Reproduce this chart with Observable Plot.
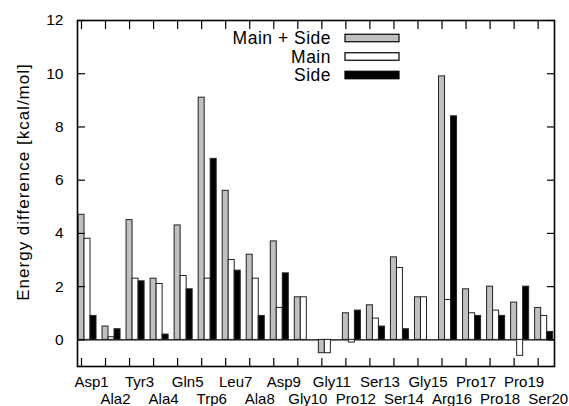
<!DOCTYPE html>
<html><head><meta charset="utf-8">
<script src="https://cdn.jsdelivr.net/npm/d3@7"></script>
<script src="https://cdn.jsdelivr.net/npm/@observablehq/plot@0.6"></script>
<style>body{margin:0;background:#fff;} #chart{width:569px;height:406px;}</style>
</head><body><div id="chart"></div>
<script>
const residues = ["Asp1","Ala2","Tyr3","Ala4","Gln5","Trp6","Leu7","Ala8","Asp9","Gly10",
                  "Gly11","Pro12","Ser13","Ser14","Gly15","Arg16","Pro17","Pro18","Pro19","Ser20"];
const mainSide = [4.7,0.5,4.5,2.3,4.3,9.1,5.6,3.2,3.7,1.6,-0.5,1.0,1.3,3.1,1.6,9.9,1.9,2.0,1.4,1.2];
const mainOnly = [3.8,0.1,2.3,2.1,2.4,2.3,3.0,2.3,1.2,1.6,-0.5,-0.1,0.8,2.7,1.6,1.5,1.0,1.1,-0.6,0.9];
const sideOnly = [0.9,0.4,2.2,0.2,1.9,6.8,2.6,0.9,2.5,0.0,0.0,1.1,0.5,0.4,0.0,8.4,0.9,0.9,2.0,0.3];
const seriesNames = ["Main + Side","Main","Side"];
const seriesFill = ["#c0c0c0","#ffffff","#000000"];
const seriesOffset = [0, 0.25, 0.5];
const yTicks = [0,2,4,6,8,10,12];
const yLabel = "Energy difference [kcal/mol]";

const barW = 0.25;
const rows = [];
[mainSide, mainOnly, sideOnly].forEach((vals, s) =>
  vals.forEach((v, i) => rows.push({pos: i + 1 + seriesOffset[s], value: v, series: seriesNames[s]})));
const idx = residues.map((_, i) => i + 1);
const odd = idx.filter(i => i % 2 === 1);
const even = idx.filter(i => i % 2 === 0);
const fmt = i => residues[i - 1];
const blank = () => "";

const plot = Plot.plot({
  width: 569, height: 406,
  marginLeft: 77, marginRight: 15, marginTop: 20, marginBottom: 40,
  style: {fontFamily: "'Liberation Sans', Arial, sans-serif", fontSize: "15px", color: "#000", background: "#fff"},
  x: {domain: [0.834, 20.68]},
  y: {domain: [-1, 12]},
  color: {domain: seriesNames, range: seriesFill},
  marks: [
    Plot.ruleY([0], {stroke: "#000", strokeWidth: 1.2}),
    Plot.rect(rows, {x1: d => d.pos - barW / 2, x2: d => d.pos + barW / 2, y1: 0, y2: "value",
                     fill: "series", stroke: "#222", strokeWidth: 1}),
    Plot.axisX({anchor: "bottom", ticks: idx, tickSize: 8, dy: -8, tickFormat: blank, label: null, strokeWidth: 1.2}),
    Plot.axisX({anchor: "top", ticks: idx, tickSize: 8, dy: 8, tickFormat: blank, label: null, strokeWidth: 1.2}),
    Plot.axisY({anchor: "left", ticks: yTicks, tickSize: 8, dx: 8, tickFormat: blank, label: null, strokeWidth: 1.2}),
    Plot.axisY({anchor: "right", ticks: yTicks, tickSize: 8, dx: -8, tickFormat: blank, label: null, strokeWidth: 1.2}),
    Plot.axisX({anchor: "bottom", ticks: odd, tickSize: 0, tickPadding: 10, dx: 10, tickFormat: fmt, label: null, fontSize: 15}),
    Plot.axisX({anchor: "bottom", ticks: even, tickSize: 0, tickPadding: 27, dx: 10, tickFormat: fmt, label: null, fontSize: 15}),
    Plot.axisY({anchor: "left", ticks: yTicks, tickSize: 0, tickPadding: 14, label: null, fontSize: 15.5}),
    Plot.frame({stroke: "#000", strokeWidth: 1.6})
  ]
});

const svg = d3.select(plot);
svg.append("text")
  .attr("transform", "translate(23,182) rotate(-90)")
  .attr("text-anchor", "middle").attr("dy", "0.35em")
  .style("font-size", "17px").style("letter-spacing", "1px")
  .text(yLabel);
const lg = svg.append("g").style("font-size", "17.5px").style("letter-spacing", "0.5px");
seriesNames.forEach((name, k) => {
  const cy = 38 + k * 18.5;
  lg.append("text").attr("x", 331).attr("y", cy).attr("dy", "0.35em")
    .attr("text-anchor", "end").text(name);
  lg.append("rect").attr("x", 345).attr("y", cy - 3.75).attr("width", 54).attr("height", 7.5)
    .attr("fill", seriesFill[k]).attr("stroke", "#000").attr("stroke-width", 1.2);
});
document.getElementById("chart").appendChild(plot);
</script>
</body></html>
